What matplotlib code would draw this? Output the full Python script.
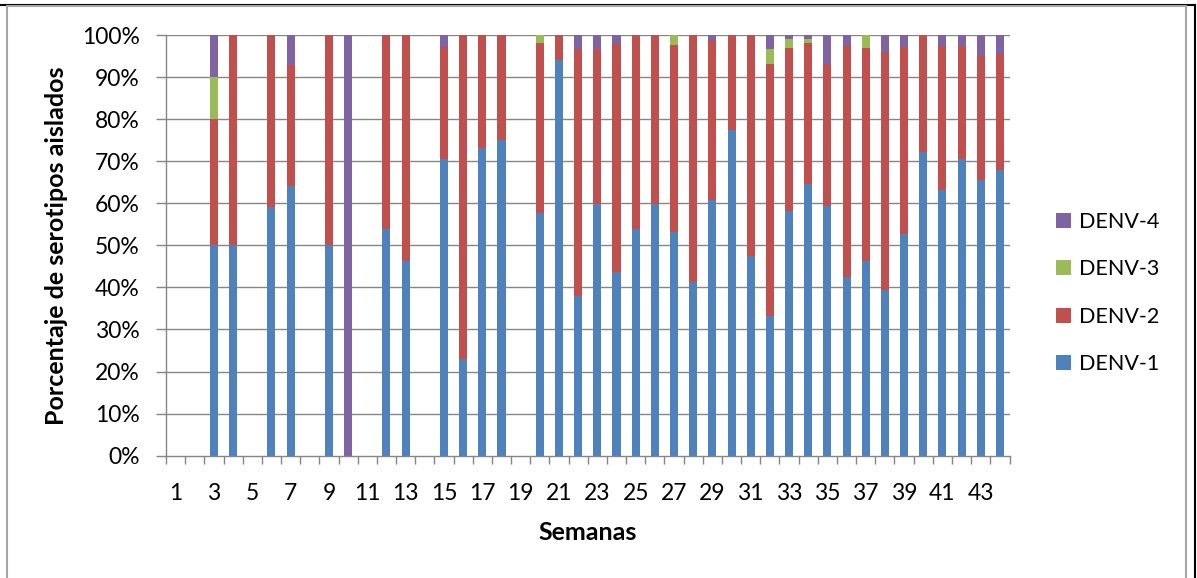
import matplotlib
matplotlib.use("Agg")
import matplotlib.pyplot as plt
import numpy as np
from matplotlib.lines import Line2D
from matplotlib.ticker import FixedLocator, FuncFormatter

plt.rcParams['font.family'] = ['Lato', 'DejaVu Sans']

weeks = list(range(1, 45))
denv1 = [0, 0, 50, 50, 0, 59.0, 64.2, 0, 50, 0,
         0, 53.8, 46.3, 0, 70.5, 23.1, 73.1, 75.0, 0, 57.7,
         94.1, 37.9, 59.9, 43.6, 53.8, 59.9, 53.2, 41.2, 60.7, 77.3,
         47.5, 33.3, 58.2, 64.5, 59.3, 42.4, 46.2, 39.5, 52.6, 72.3,
         63.1, 70.5, 65.5, 67.8]
denv2 = [0, 0, 30, 50, 0, 41.0, 28.6, 0, 50, 0,
         0, 46.2, 53.7, 0, 26.6, 76.9, 26.9, 25.0, 0, 40.3,
         5.9, 58.7, 36.7, 54.2, 46.2, 40.1, 44.5, 58.8, 38.0, 22.7,
         52.5, 59.9, 38.8, 33.7, 33.9, 54.9, 50.8, 56.4, 44.5, 27.7,
         34.4, 27.0, 29.4, 27.6]
denv3 = [0, 0, 10, 0, 0, 0, 0, 0, 0, 0,
         0, 0, 0, 0, 0, 0, 0, 0, 0, 2.0,
         0, 0, 0, 0, 0, 0, 2.3, 0, 0, 0,
         0, 3.5, 2.0, 0.9, 0, 0, 3.0, 0, 0, 0,
         0, 0, 0, 0]
denv4 = [0, 0, 10, 0, 0, 0, 7.2, 0, 0, 100,
         0, 0, 0, 0, 2.9, 0, 0, 0, 0, 0,
         0, 3.4, 3.4, 2.2, 0, 0, 0, 0, 1.3, 0,
         0, 3.3, 1.0, 0.9, 6.8, 2.7, 0, 4.1, 2.9, 0,
         2.5, 2.5, 5.1, 4.6]
series = ['DENV-1', 'DENV-2', 'DENV-3', 'DENV-4']
colors = ['#4F81BD', '#C0504D', '#9BBB59', '#8064A2']
yticks = [0, 10, 20, 30, 40, 50, 60, 70, 80, 90, 100]

W, H = 1197, 578
fig = plt.figure(figsize=(W / 100, H / 100), dpi=100)
ax = fig.add_axes([166 / W, 1 - 455.7 / H, (1009.5 - 166) / W, (455.7 - 35) / H])

grid_c = '#868686'
ax.set_axisbelow(True)
for y in yticks[1:]:
    ax.axhline(y, color=grid_c, lw=1.0, zorder=0)

x = np.array(weeks)
bottom = np.zeros(len(weeks))
handles = []
for name, vals, c in zip(series, [denv1, denv2, denv3, denv4], colors):
    v = np.array(vals, dtype=float)
    b = ax.bar(x, v, width=0.42, bottom=bottom, color=c, label=name,
               edgecolor='none', zorder=2)
    handles.append(b)
    bottom += v

ax.set_xlim(0.5, 44.5)
ax.set_ylim(0, 100)
ax.yaxis.set_major_locator(FixedLocator(yticks))
ax.yaxis.set_major_formatter(FuncFormatter(lambda v, p: f'{v:.0f}%'))
ax.xaxis.set_major_locator(FixedLocator(weeks[::2]))
ax.xaxis.set_major_formatter(FuncFormatter(lambda v, p: f'{int(v)}'))
ax.xaxis.set_minor_locator(FixedLocator(np.arange(0.5, 45, 1.0)))
ax.tick_params(axis='x', which='major', length=0, pad=20, labelsize=16.5, labelcolor='black')
ax.tick_params(axis='x', which='minor', length=6, width=1.0, color=grid_c, direction='out')
ax.tick_params(axis='y', which='major', length=7, width=1.0, color=grid_c, pad=12,
               labelsize=16.5, labelcolor='black')

for s in ['top', 'right']:
    ax.spines[s].set_visible(False)
for s in ['left', 'bottom']:
    ax.spines[s].set_color(grid_c)
    ax.spines[s].set_linewidth(1.0)

fig.text(57 / W, 1 - 246 / H, 'Porcentaje de serotipos aislados', rotation=90,
         ha='center', va='center', fontsize=18, fontweight='bold')
fig.text(588 / W, 1 - 532 / H, 'Semanas', ha='center', va='center',
         fontsize=18, fontweight='bold')

leg = fig.legend(handles[::-1], series[::-1], loc='center left',
                 bbox_to_anchor=(1045 / W, 1 - 293 / H), frameon=False,
                 fontsize=15.5, handlelength=0.7, handleheight=0.7,
                 handletextpad=0.38, labelspacing=1.28, borderpad=0)

# outer chart frames
fig.add_artist(Line2D([0, 1195 / W], [1 - 4.5 / H, 1 - 4.5 / H], color='black', lw=1.5,
                      transform=fig.transFigure))
fig.add_artist(Line2D([1195 / W, 1195 / W], [0, 1 - 4.5 / H], color='black', lw=1.5,
                      transform=fig.transFigure))
gc = '#A6A6A6'
fig.add_artist(Line2D([7 / W, 1186 / W], [1 - 6 / H, 1 - 6 / H], color=gc, lw=1.5,
                      transform=fig.transFigure))
fig.add_artist(Line2D([7 / W, 7 / W], [0, 1 - 6 / H], color=gc, lw=1.5,
                      transform=fig.transFigure))
fig.add_artist(Line2D([1186 / W, 1186 / W], [0, 1 - 6 / H], color=gc, lw=1.5,
                      transform=fig.transFigure))

fig.savefig('out.png', dpi=100)
